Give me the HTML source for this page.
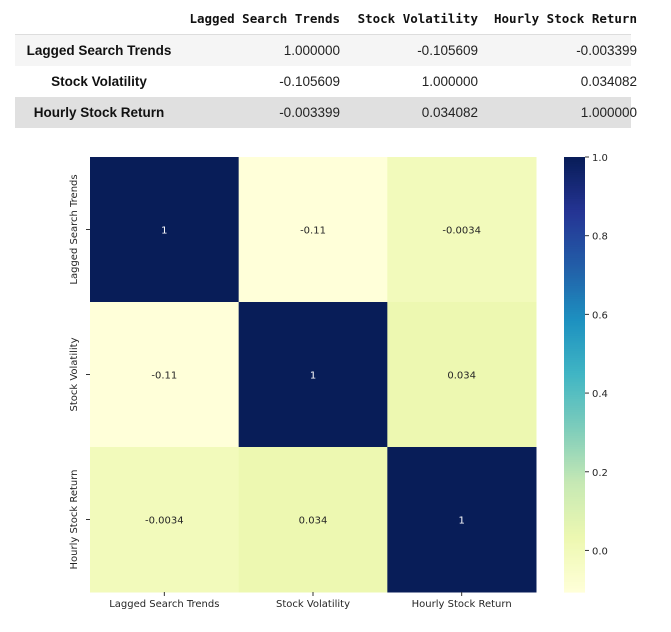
<!DOCTYPE html>
<html><head><meta charset="utf-8"><style>
body{margin:0;background:#fff;width:671px;height:632px;overflow:hidden;position:relative}
table{position:absolute;left:15px;top:3px;border-collapse:collapse;table-layout:fixed;font-family:"Liberation Sans",sans-serif;font-size:13.5px;color:#222;white-space:nowrap}
th.h{font-family:"DejaVu Sans Mono","Liberation Mono",monospace;font-size:12.5px;font-weight:bold;text-align:right;height:31px;border-bottom:1px solid #ddd;padding:0;color:#111}
td{height:31px;text-align:right;padding:0}
td.l{font-weight:bold;text-align:center;font-size:13.5px;color:#111}
td.e span,th.e span{margin-right:-6px}
tr.r1{background:#f5f5f5}tr.r3{background:#e0e0e0}
svg{position:absolute;left:0;top:0}
</style></head><body>
<table>
<colgroup><col style="width:168px"><col style="width:157px"><col style="width:138px"><col style="width:153px"></colgroup>
<tr><th class="h"></th><th class="h">Lagged Search Trends</th><th class="h">Stock Volatility</th><th class="h e"><span>Hourly Stock Return</span></th></tr>
<tr class="r1"><td class="l">Lagged Search Trends</td><td>1.000000</td><td>-0.105609</td><td class="e"><span>-0.003399</span></td></tr>
<tr><td class="l">Stock Volatility</td><td>-0.105609</td><td>1.000000</td><td class="e"><span>0.034082</span></td></tr>
<tr class="r3"><td class="l">Hourly Stock Return</td><td>-0.003399</td><td>0.034082</td><td class="e"><span>1.000000</span></td></tr>
</table>
<svg id="chart" width="671" height="632"></svg>
<script>
const labels=["Lagged Search Trends","Stock Volatility","Hourly Stock Return"];
const row0=[1,-0.105609,-0.003399];
const row1=[-0.105609,1,0.034082];
const row2=[-0.003399,0.034082,1];
const annot0=["1","-0.11","-0.0034"];
const annot1=["-0.11","1","0.034"];
const annot2=["-0.0034","0.034","1"];
const cbTicks=[0,0.2,0.4,0.6,0.8,1.0];
const vmin=-0.105609,vmax=1;
const stops=["#ffffd9","#edf8b1","#c7e9b4","#7fcdbb","#41b6c4","#1d91c0","#225ea8","#253494","#081d58"];
function hex(h){return [1,3,5].map(i=>parseInt(h.substr(i,2),16));}
function cmap(v){let t=(v-vmin)/(vmax-vmin);t=Math.max(0,Math.min(1,t));const p=t*(stops.length-1);const i=Math.min(Math.floor(p),stops.length-2);const f=p-i;const a=hex(stops[i]),b=hex(stops[i+1]);return "rgb("+a.map((c,k)=>Math.round(c+(b[k]-c)*f)).join(",")+")";}
const X0=90,X1=536,Y0=157,Y1=592;
const cw=(X1-X0)/3,ch=(Y1-Y0)/3;
const xs=i=>X0+i*cw, ys=j=>Y0+j*ch;
const ns="http://www.w3.org/2000/svg";
const svg=document.getElementById("chart");
const FS="10";
function mk(t,a,txt){const e=document.createElementNS(ns,t);for(const k in a)e.setAttribute(k,a[k]);if(txt!=null)e.textContent=txt;svg.appendChild(e);return e;}
const rows=[row0,row1,row2],ann=[annot0,annot1,annot2];
rows.forEach((r,j)=>r.forEach((v,i)=>{
 const c=mk("rect",{x:xs(i),y:ys(j),width:cw+0.5,height:ch+0.5,fill:cmap(v)});
 
 
 const t=mk("text",{x:xs(i)+cw/2,y:ys(j)+ch/2+4,"text-anchor":"middle","font-size":FS,"font-family":"DejaVu Sans,sans-serif",fill:v>0.5?"#fff":"#262626"},ann[j][i]);
 
 
}));
labels.forEach((l,i)=>{
 mk("line",{x1:xs(i)+cw/2,x2:xs(i)+cw/2,y1:Y1,y2:Y1+4,stroke:"#333"});
 const t=mk("text",{x:xs(i)+cw/2,y:Y1+15,"text-anchor":"middle","font-size":FS,"font-family":"DejaVu Sans,sans-serif",fill:"#262626"},l);
 
 
 mk("line",{x1:X0-4,x2:X0,y1:ys(i)+ch/2,y2:ys(i)+ch/2,stroke:"#333"});
 const cy=ys(i)+ch/2,cx=X0-13;
 const u=mk("text",{x:cx,y:cy,transform:`rotate(-90 ${cx} ${cy})`,"text-anchor":"middle","font-size":FS,"font-family":"DejaVu Sans,sans-serif",fill:"#262626"},l);
 
 
});
const CX=564,CW=21,CB0=592,CB1=157;
const cy=v=>CB0-(v-vmin)/(vmax-vmin)*(CB0-CB1);
for(let k=0;k<200;k++){const v0=vmin+(vmax-vmin)*k/200,v1=vmin+(vmax-vmin)*(k+1)/200;
 mk("rect",{x:CX,y:cy(v1),width:CW,height:cy(v0)-cy(v1)+0.6,fill:cmap((v0+v1)/2)});}
cbTicks.forEach(v=>{
 mk("line",{x1:CX+CW,x2:CX+CW+4,y1:cy(v),y2:cy(v),stroke:"#333"});
 const t=mk("text",{x:CX+CW+7,y:cy(v)+4,"font-size":FS,"font-family":"DejaVu Sans,sans-serif",fill:"#262626"},v.toFixed(1));
 
 
});
</script>
</body></html>
